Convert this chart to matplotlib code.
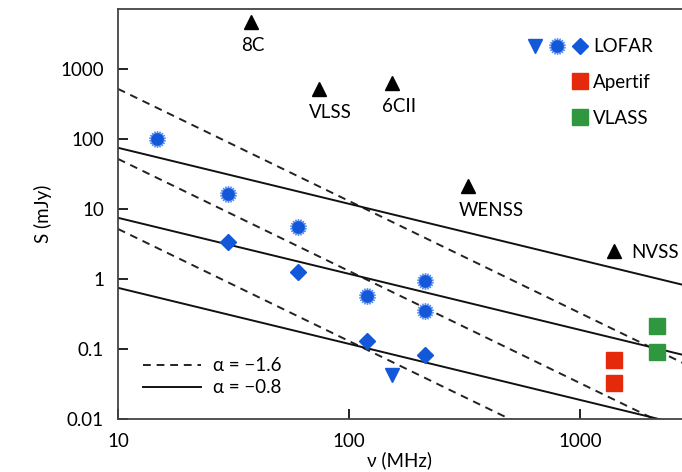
import numpy as np
import matplotlib.pyplot as plt
from matplotlib.lines import Line2D
from matplotlib.legend_handler import HandlerTuple

plt.rcParams['font.family'] = ['Lato', 'DejaVu Sans']

# reference surveys (black triangles)
survey_names = ["8C", "VLSS", "6CII", "WENSS", "NVSS"]
survey_nu = [37.5, 74, 154, 329, 1400]
survey_S = [4700, 520, 640, 21, 2.5]

# LOFAR detections
lofar_star_nu = [14.7, 30, 60, 120, 213, 213]
lofar_star_S = [100, 16.5, 5.5, 0.57, 0.95, 0.35]
lofar_diam_nu = [30, 60, 120, 213]
lofar_diam_S = [3.35, 1.25, 0.13, 0.082]
lofar_lim_nu = [153]
lofar_lim_S = [0.043]

# Apertif and VLASS
apertif_nu = [1400, 1400]
apertif_S = [0.071, 0.033]
vlass_nu = [2150, 2150]
vlass_S = [0.213, 0.091]

# spectral index lines, S = S10 * (nu/10)^alpha
dash_alpha = -1.6
dash_S10 = [520, 52, 5.2]
solid_alpha = -0.8
solid_S10 = [75, 7.5, 0.75]

blue = "#1358d8"
halo = "#5b8ff0"
red = "#e52a0c"
green = "#2f983e"
fs = 13.5

fig = plt.figure(figsize=(6.82, 4.72), dpi=100)
ax = fig.add_axes([0.173, 0.112, 0.827, 0.869])
ax.set_xscale("log")
ax.set_yscale("log")
ax.set_xlim(10, 2770)
ax.set_ylim(0.01, 7200)

nu = np.array([10.0, 3000.0])
for a in dash_S10:
    ax.plot(nu, a * (nu / 10) ** dash_alpha, color="#222222", lw=1.4, ls=(0, (4, 3)))
for a in solid_S10:
    ax.plot(nu, a * (nu / 10) ** solid_alpha, color="#111111", lw=1.4)

ax.plot(survey_nu, survey_S, "^", color="black", ms=10, ls="none")
for name, x, y in zip(survey_names, survey_nu, survey_S):
    if name == "NVSS":
        ax.annotate(name, (x, y), xytext=(13, -1), textcoords="offset points",
                    ha="left", va="center", fontsize=fs)
    else:
        ax.annotate(name, (x, y), xytext=(-7, -17), textcoords="offset points",
                    ha="left", va="center", fontsize=fs)

ax.plot(lofar_star_nu, lofar_star_S, marker=(18, 1, 0), color=halo, ms=12, ls="none")
ax.plot(lofar_star_nu, lofar_star_S, "o", color=blue, ms=8, ls="none")
ax.plot(lofar_diam_nu, lofar_diam_S, "D", color=blue, ms=8, ls="none")
ax.plot(lofar_lim_nu, lofar_lim_S, "v", color=blue, ms=10, ls="none")
ax.plot(apertif_nu, apertif_S, "s", color=red, ms=11, ls="none")
ax.plot(vlass_nu, vlass_S, "s", color=green, ms=11, ls="none")

# legends
blank = Line2D([], [], ls="none")
h_tri = Line2D([], [], marker="v", color=blue, ms=10, ls="none")
h_star = (Line2D([], [], marker=(18, 1, 0), color=halo, ms=12, ls="none"),
          Line2D([], [], marker="o", color=blue, ms=8, ls="none"))
h_dia = Line2D([], [], marker="D", color=blue, ms=8, ls="none")
h_ap = (blank, blank, Line2D([], [], marker="s", color=red, ms=11, ls="none"))
h_vl = (blank, blank, Line2D([], [], marker="s", color=green, ms=11, ls="none"))
leg1 = ax.legend([(h_tri, h_star, h_dia), h_ap, h_vl], ["LOFAR", "Apertif", "VLASS"],
                 handler_map={tuple: HandlerTuple(ndivide=None, pad=0.0),
                              h_star: HandlerTuple(ndivide=1)},
                 loc="upper right", bbox_to_anchor=(0.978, 0.97), frameon=False,
                 fontsize=fs, handlelength=3.6, labelspacing=1.0, handletextpad=0.1)
ax.add_artist(leg1)

l_d = Line2D([], [], color="#222222", lw=1.4, ls=(0, (4, 3)))
l_s = Line2D([], [], color="#111111", lw=1.4)
ax.legend([l_d, l_s], ["α = −1.6", "α = −0.8"], loc="lower left",
          bbox_to_anchor=(0.015, 0.015), frameon=False, fontsize=fs,
          handlelength=3.1, labelspacing=0.25, handletextpad=0.6)

ax.set_xticks([10, 100, 1000])
ax.set_xticklabels(["10", "100", "1000"])
ax.set_yticks([0.01, 0.1, 1, 10, 100, 1000])
ax.set_yticklabels(["0.01", "0.1", "1", "10", "100", "1000"])
ax.minorticks_off()
ax.tick_params(direction="in", length=7, width=1.4, labelsize=fs, pad=10, color="#222222")
ax.spines["right"].set_visible(False)
for s in ["left", "top", "bottom"]:
    ax.spines[s].set_color("#444444")
    ax.spines[s].set_linewidth(1.3)

ax.set_xlabel("ν (MHz)", fontsize=fs, labelpad=1)
ax.set_ylabel("S (mJy)", fontsize=fs, labelpad=6)

fig.savefig("out.png", dpi=100)
